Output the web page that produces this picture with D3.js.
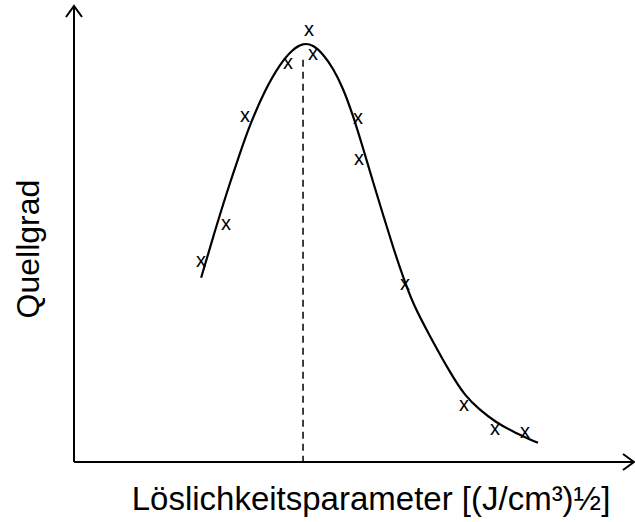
<!DOCTYPE html>
<html>
<head>
<meta charset="utf-8">
<script src="https://cdn.jsdelivr.net/npm/d3@7"></script>
<style>
  body { margin: 0; background: #ffffff; }
  svg { display: block; }
</style>
</head>
<body>
<div id="chart"></div>
<script>
const width = 635, height = 522;

// measured points (marker "x")
const pointX = [4.54, 5.43, 6.11, 7.64, 8.39, 8.54, 10.14, 10.18, 11.82, 13.93, 15.04, 16.11];
const pointY = [43.9, 52.0, 75.7, 87.3, 94.5, 89.3, 75.4, 66.4, 39.0, 12.3, 7.2, 6.4];

// fitted curve
const curveX = [4.54, 5.0, 5.46, 5.93, 6.29, 6.82, 7.36, 7.79, 8.18, 8.54, 8.89, 9.25, 9.61, 9.96,
                10.32, 10.68, 11.04, 11.39, 11.75, 12.11, 12.71, 13.43, 13.96, 14.5, 15.04, 15.75, 16.57];
const curveY = [40.4, 50.0, 59.2, 67.8, 74.1, 81.6, 87.3, 90.4, 91.9, 91.5, 89.5, 86.4, 82.0, 76.1,
                68.9, 61.4, 54.2, 47.2, 40.6, 34.6, 27.6, 19.6, 14.5, 11.4, 8.8, 6.4, 4.2];

// position of the maximum (dashed line)
const peakX = 8.18;
const peakTop = 88.2;

const xLabel = "Löslichkeitsparameter [(J/cm³)½]";
const yLabel = "Quellgrad";

const x = d3.scaleLinear().domain([0, 20]).range([74, 634]);
const y = d3.scaleLinear().domain([0, 100]).range([462, 6]);

const svg = d3.select("#chart").append("svg")
    .attr("width", width)
    .attr("height", height);

// axes with open arrow heads
const axisG = svg.append("g")
    .attr("stroke", "#000")
    .attr("stroke-width", 2)
    .attr("fill", "none");

axisG.append("path")
    .attr("d", d3.line()([[x(0), y(0)], [x(0), y(100)]]));
axisG.append("path")
    .attr("d", d3.line()([[x(0), y(0)], [x(20), y(0)]]));
axisG.append("path")
    .attr("d", d3.line()([[x(0) - 8, y(100) + 11], [x(0), y(100)], [x(0) + 8, y(100) + 11]]));
axisG.append("path")
    .attr("d", d3.line()([[x(20) - 11, y(0) - 8], [x(20), y(0)], [x(20) - 11, y(0) + 8]]));

// dashed line at the maximum
svg.append("line")
    .attr("x1", x(peakX)).attr("x2", x(peakX))
    .attr("y1", y(peakTop)).attr("y2", y(0))
    .attr("stroke", "#000")
    .attr("stroke-width", 1.5)
    .attr("stroke-dasharray", "7,5");

// fitted curve
const curveData = curveX.map((d, i) => [d, curveY[i]]);
svg.append("path")
    .datum(curveData)
    .attr("fill", "none")
    .attr("stroke", "#000")
    .attr("stroke-width", 2.2)
    .attr("d", d3.line()
        .x(d => x(d[0]))
        .y(d => y(d[1]))
        .curve(d3.curveBasis));

// markers
const pts = pointX.map((d, i) => [d, pointY[i]]);
svg.append("g")
    .attr("font-family", "Arial, 'Liberation Sans', sans-serif")
    .attr("font-size", 20)
    .attr("text-anchor", "middle")
    .selectAll("text")
    .data(pts)
    .enter()
    .append("text")
        .attr("x", d => x(d[0]))
        .attr("y", d => y(d[1]))
        .attr("dy", "0.27em")
        .text("x");

// axis titles
svg.append("text")
    .attr("x", 371)
    .attr("y", 510)
    .attr("text-anchor", "middle")
    .attr("font-family", "Arial, 'Liberation Sans', sans-serif")
    .attr("font-size", 33)
    .text(xLabel);

svg.append("text")
    .attr("transform", "translate(39,249) rotate(-90)")
    .attr("text-anchor", "middle")
    .attr("font-family", "Arial, 'Liberation Sans', sans-serif")
    .attr("font-size", 32)
    .text(yLabel);
</script>
</body>
</html>
